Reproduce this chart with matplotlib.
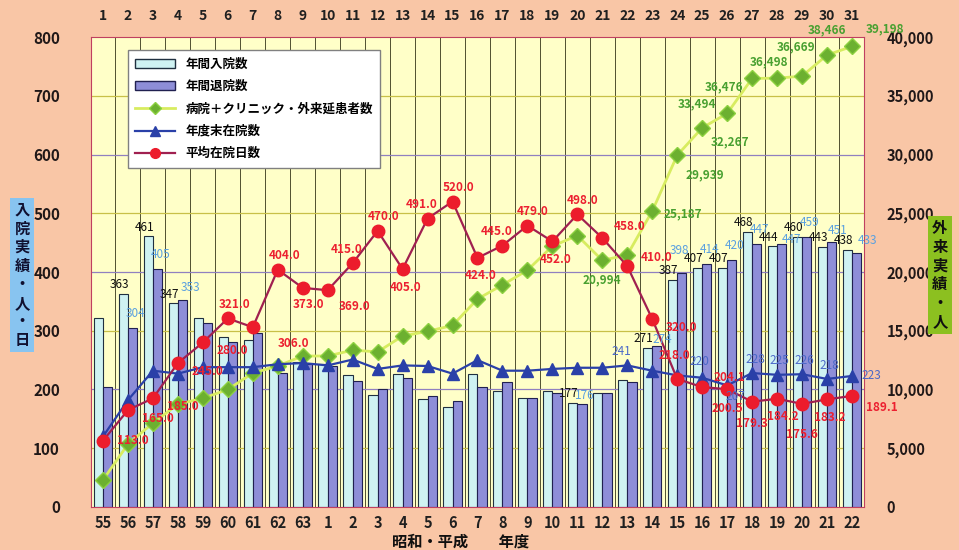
import matplotlib.pyplot as plt
import numpy as np
from matplotlib.patches import Patch
from matplotlib.lines import Line2D

plt.rcParams['font.family'] = ['Noto Sans CJK JP', 'DejaVu Sans']

# 年度 (昭和55〜63, 平成1〜22)
years = ['55', '56', '57', '58', '59', '60', '61', '62', '63',
         '1', '2', '3', '4', '5', '6', '7', '8', '9', '10', '11',
         '12', '13', '14', '15', '16', '17', '18', '19', '20', '21', '22']
top_labels = [str(i) for i in range(1, 32)]

admissions = [322, 363, 461, 347, 322, 290, 285, 237, 247, 243, 225, 190, 226,
              184, 170, 226, 198, 185, 197, 177, 194, 216, 271, 387, 407, 407,
              468, 444, 460, 443, 438]
discharges = [204, 304, 405, 353, 313, 280, 296, 228, 243, 240, 215, 200, 219,
              189, 181, 205, 212, 185, 194, 176, 194, 213, 274, 398, 414, 420,
              447, 447, 459, 451, 433]
outpatients = [2300, 5350, 7150, 8750, 9250, 10000, 11400, 12000, 12850, 12850,
               13350, 13200, 14550, 14950, 15450, 17700, 18900, 20150, 22200,
               23100, 20994, 21450, 25187, 29939, 32267, 33494, 36476, 36498,
               36669, 38466, 39198]
inpatients_end = [120, 182, 232, 227, 238, 238, 238, 243, 245, 241, 251, 235,
                  241, 240, 227, 250, 232, 232, 235, 237, 237, 241, 232, 224,
                  220, 207, 228, 225, 226, 218, 223]
avg_stay = [113.0, 165.0, 185.0, 245.0, 280.0, 321.0, 306.0, 404.0, 373.0,
            369.0, 415.0, 470.0, 405.0, 491.0, 520.0, 424.0, 445.0, 479.0,
            452.0, 498.0, 458.0, 410.0, 320.0, 218.0, 204.1, 200.5, 179.3,
            184.2, 175.6, 183.2, 189.1]

adm_label_idx = [1, 2, 3, 19, 22, 23, 24, 25, 26, 27, 28, 29, 30]
out_label_idx = [20, 22, 23, 24, 25, 26, 27, 28, 29, 30]
end_label_idx = [21, 24, 25, 26, 27, 28, 29, 30]

bg = '#F9C6A6'
fig = plt.figure(figsize=(9.59, 5.5), dpi=100, facecolor=bg)
ax = fig.add_axes([0.0944, 0.0782, 0.807, 0.8545])
ax.set_facecolor('#FFFFC8')
ax2 = ax.twinx()

x = np.arange(len(years))
w = 0.37
ax.bar(x - w / 2, admissions, w, color='#CFF2F2', edgecolor='#203040',
       linewidth=0.8, zorder=2)
ax.bar(x + w / 2, discharges, w, color='#8E8ED8', edgecolor='#202050',
       linewidth=0.8, zorder=2)

ax.set_xlim(-0.5, len(years) - 0.5)
ax.set_ylim(0, 800)
ax2.set_ylim(0, 40000)

# グリッド
for xb in np.arange(-0.5, len(years), 1.0):
    ax.axvline(xb, color='#505030', linewidth=0.7, zorder=1)
for i, yv in enumerate(range(100, 800, 100)):
    c = '#9080C0' if i % 2 == 1 else '#C8C048'
    ax.axhline(yv, color=c, linewidth=0.9, zorder=1)
for sp in ax.spines.values():
    sp.set_color('#C04060')
for sp in ax2.spines.values():
    sp.set_visible(False)

# 折れ線
ax2.plot(x, outpatients, color='#D8EC60', linewidth=2, marker='D',
         markersize=8, markerfacecolor='#6CB030', markeredgecolor='#8CD040',
         zorder=3)
ax3 = ax.twinx()
ax3.set_ylim(0, 800)
ax3.axis('off')
ax3.plot(x, inpatients_end, color='#2A40A8', linewidth=1.6, marker='^',
         markersize=9, markerfacecolor='#2A40A8', markeredgecolor='#2A40A8',
         zorder=4)
ax3.plot(x, avg_stay, color='#A02050', linewidth=1.6, marker='o',
         markersize=9, markerfacecolor='#EC1C2C', markeredgecolor='#EC1C2C',
         zorder=5)

# 凡例
handles = [
    Patch(facecolor='#CFF2F2', edgecolor='#203040', label='年間入院数'),
    Patch(facecolor='#8E8ED8', edgecolor='#202050', label='年間退院数'),
    Line2D([], [], color='#D8EC60', lw=2, marker='D', markersize=6,
           markerfacecolor='#6CB030', markeredgecolor='#8CD040',
           label='病院＋クリニック・外来延患者数'),
    Line2D([], [], color='#2A40A8', lw=1.6, marker='^', markersize=7,
           label='年度末在院数'),
    Line2D([], [], color='#A02050', lw=1.6, marker='o', markersize=7,
           markerfacecolor='#EC1C2C', markeredgecolor='#EC1C2C',
           label='平均在院日数'),
]
leg = ax3.legend(handles=handles, loc='upper left', bbox_to_anchor=(0.04, 0.985),
                 prop={'weight': 'bold', 'size': 9}, frameon=True, fancybox=False,
                 edgecolor='#808080', framealpha=1, handlelength=3.2,
                 labelspacing=0.75, borderpad=0.6)
leg.set_zorder(10)

# 軸目盛
ax.set_xticks(x)
ax.set_xticklabels(years, fontsize=10.5, fontweight='bold', color='#202020')
ax.tick_params(axis='x', length=0, pad=6)
ax.set_yticks(range(0, 801, 100))
ax.set_yticklabels([str(v) for v in range(0, 801, 100)], fontsize=11,
                   fontweight='bold', color='#201818')
ax.tick_params(axis='y', length=0, pad=22)
ax2.set_yticks(range(0, 40001, 5000))
ax2.set_yticklabels(['{:,}'.format(v) for v in range(0, 40001, 5000)],
                    fontsize=10.5, fontweight='bold', color='#201818')
ax2.tick_params(axis='y', length=0, pad=16)

top = ax.secondary_xaxis('top')
top.set_xticks(x)
top.set_xticklabels(top_labels, fontsize=10, fontweight='bold', color='#202020')
top.tick_params(length=0, pad=10)
top.spines['top'].set_visible(False)

# データラベル
for i in adm_label_idx:
    ax3.annotate(str(admissions[i]), (x[i] - w / 2, admissions[i]),
                 xytext=(-3, 4), textcoords='offset points', ha='center',
                 fontsize=8.5, color='#101010', zorder=6)
dis_off = {1: (2, 8), 2: (2, 8), 3: (6, 6), 19: (2, 3), 22: (4, 2),
           23: (-2, 14), 24: (2, 8), 25: (2, 8), 26: (2, 8), 27: (7, 1),
           28: (2, 8), 29: (4, 6), 30: (8, 6)}
for i in adm_label_idx:
    ax3.annotate(str(discharges[i]), (x[i] + w / 2, discharges[i]),
                 xytext=dis_off[i], textcoords='offset points', ha='center',
                 fontsize=8.5, color='#5AA0E0', zorder=6)
out_off = {20: (0, -14, 'center'), 22: (8, -2, 'left'), 23: (6, -14, 'left'),
           24: (6, -10, 'left'), 25: (-8, 7, 'right'), 26: (-6, -6, 'right'),
           27: (-6, 12, 'center'), 28: (-4, 21, 'center'), 29: (0, 18, 'center'),
           30: (10, 13, 'left')}
for i in out_label_idx:
    dx, dy, ha = out_off[i]
    ax2.annotate('{:,}'.format(outpatients[i]), (x[i], outpatients[i]),
                 xytext=(dx, dy), textcoords='offset points', ha=ha,
                 va='center', fontsize=8.5, fontweight='bold', color='#48A030',
                 zorder=6, annotation_clip=False)
end_off = {21: (-4, 10), 24: (-2, 12), 25: (6, -8), 26: (2, 10), 27: (2, 10),
           28: (2, 10), 29: (2, 10), 30: (14, 0)}
for i in end_label_idx:
    dx, dy = end_off[i]
    ax3.annotate(str(inpatients_end[i]), (x[i], inpatients_end[i]),
                 xytext=(dx, dy), textcoords='offset points', ha='center',
                 va='center', fontsize=8.5, color='#4A68C8', zorder=6,
                 annotation_clip=False)
red_off = [(10, 0), (10, -6), (10, -6), (10, -6), (10, -6), (5, 10), (18, -12),
           (5, 10), (4, -12), (8, -12), (-4, 10), (4, 10), (2, -13), (-4, 10),
           (4, 10), (2, -13), (-4, 10), (4, 10), (2, -13), (4, 10), (8, 8),
           (10, 6), (10, -6), (-2, 17), (8, 7), (0, -14), (0, -16), (4, -13),
           (0, -22), (2, -13), (10, -8)]
for i, v in enumerate(avg_stay):
    dx, dy = red_off[i]
    ax3.annotate('{:.1f}'.format(v), (x[i], v), xytext=(dx, dy),
                 textcoords='offset points', ha='left' if dx >= 8 else 'center',
                 va='center', fontsize=8.5, fontweight='bold', color='#EC2030',
                 zorder=7, annotation_clip=False)

# 軸タイトル
fig.text(0.023, 0.5, '入\n院\n実\n績\n・\n人\n・\n日', ha='center', va='center',
         fontsize=11, fontweight='bold', color='#101030', linespacing=1.2,
         bbox=dict(facecolor='#88C4F0', edgecolor='none', pad=3))
fig.text(0.98, 0.50, '外\n来\n実\n績\n・\n人', ha='center', va='center',
         fontsize=11, fontweight='bold', color='#101010', linespacing=1.2,
         bbox=dict(facecolor='#8CC020', edgecolor='none', pad=3))
fig.text(0.48, 0.0, '昭和・平成　　年度', ha='center', va='bottom',
         fontsize=11, fontweight='bold', color='#101010')

fig.savefig('out.png', dpi=100, facecolor=bg)
